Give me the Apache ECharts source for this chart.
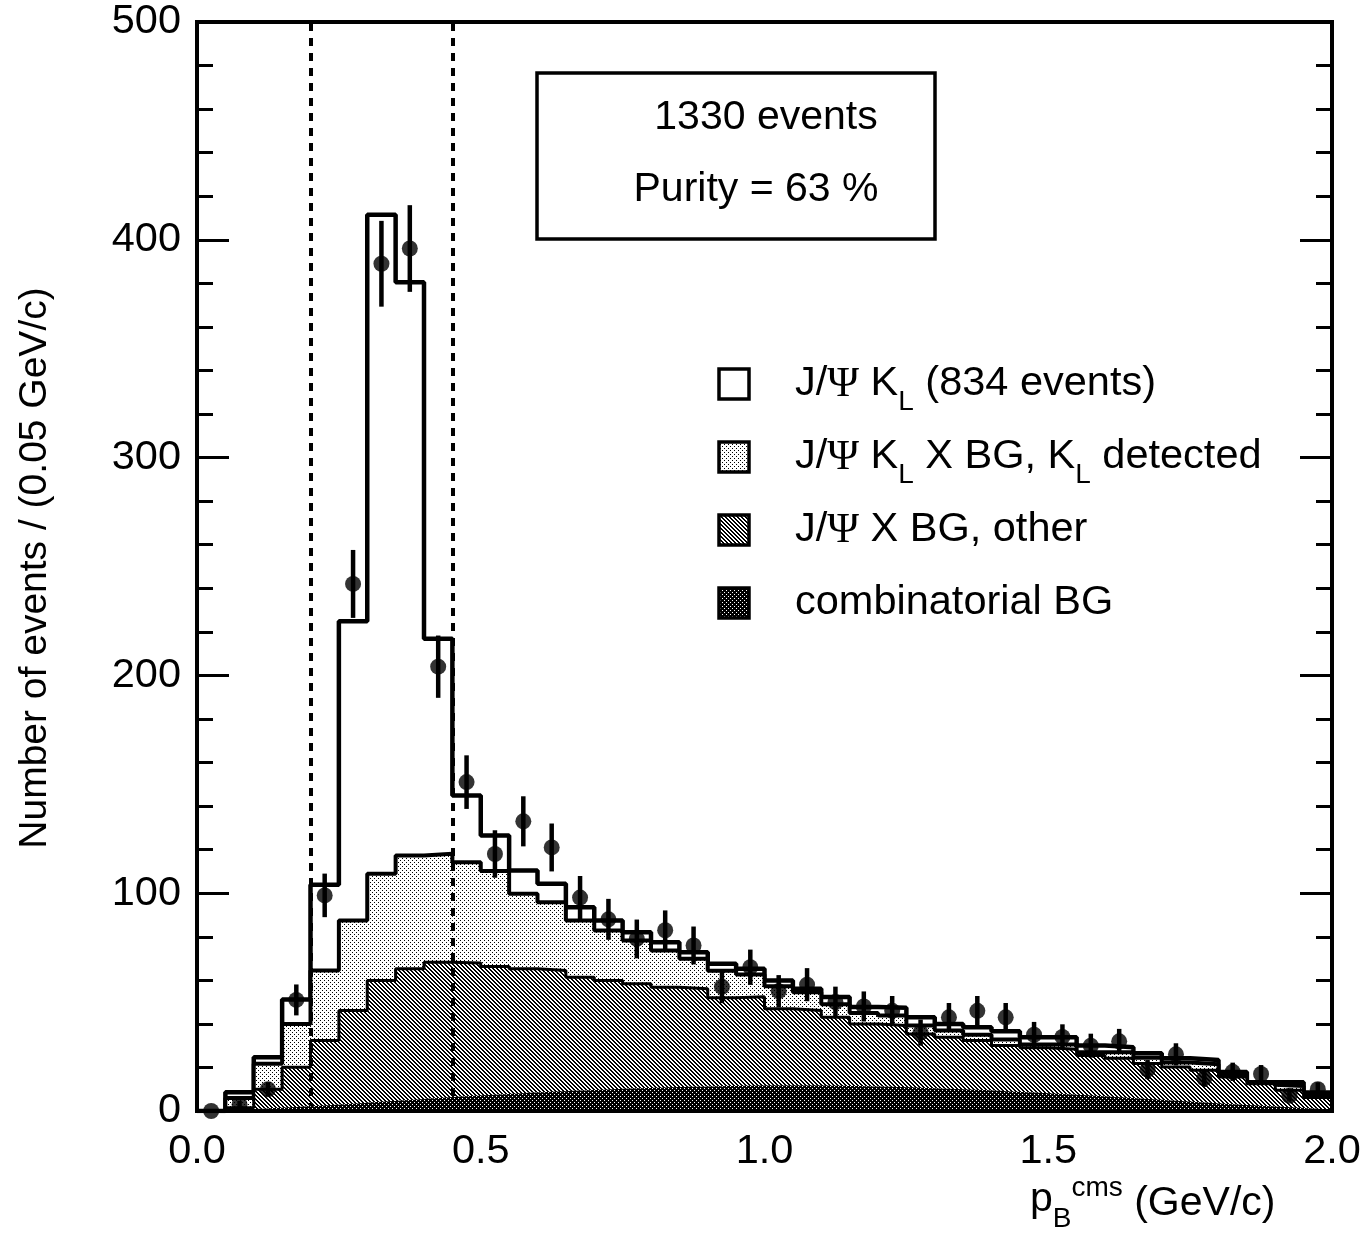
<!DOCTYPE html>
<html>
<head>
<meta charset="utf-8">
<script src="https://cdn.jsdelivr.net/npm/echarts@6/dist/echarts.min.js"></script>
<style>
html,body{margin:0;padding:0;background:#fff;}
#chart{width:1365px;height:1233px;}
</style>
</head>
<body>
<div id="chart"></div>
<script>
// ---- DATA ----
// 40 bins of 0.05 GeV/c from 0.0 to 2.0
const binWidth = 0.05;
const nBins = 40;
// cumulative top of the full MC stack (signal + all backgrounds)
const totalMC = [0, 8.6, 24.7, 51.2, 103.9, 224.9, 411.5, 380.5, 216.8, 144.9,
  126.5, 110.4, 104.3, 93.6, 87.5, 82.1, 77.5, 72.9, 67.6, 65.3,
  59.9, 56.1, 52.3, 47.7, 47.4, 43.1, 40.0, 38.5, 36.6, 33.9,
  33.9, 30.1, 29.3, 26.5, 24.2, 23.4, 17.9, 13.2, 13.2, 8.5];
// cumulative top of "J/Psi K_L X BG, K_L detected" (+ everything below)
const bgKLdetTop = [0, 6.0, 21.7, 40.0, 64.5, 87.5, 108.9, 117.3, 118.1, 114.2,
  110.2, 99.7, 95.9, 87.5, 82.9, 78.3, 73.7, 69.9, 64.4, 62.7,
  57.3, 54.5, 49.0, 45.0, 43.8, 39.3, 37.0, 35.0, 32.8, 30.5,
  30.5, 27.0, 27.0, 24.5, 22.3, 21.5, 16.3, 12.0, 11.5, 7.5];
// cumulative top of "J/Psi X BG, other" (+ combinatorial)
const bgOtherTop = [0, 1.5, 10.0, 20.1, 32.4, 46.1, 59.9, 65.3, 68.3, 67.9,
  66.4, 65.3, 64.5, 61.4, 59.9, 58.4, 56.8, 56.1, 52.0, 52.5,
  46.9, 46.1, 43.0, 40.0, 39.3, 35.4, 33.9, 32.4, 30.1, 29.0,
  28.3, 25.5, 24.2, 21.8, 20.2, 18.7, 15.6, 12.5, 9.5, 6.2];
// combinatorial background (smooth band at the bottom), at bin centres
const combBG = [0.3, 0.7, 1.2, 1.8, 2.5, 3.3, 4.2, 5.0, 6.0, 6.8,
  7.5, 8.2, 8.8, 9.4, 9.9, 10.4, 10.8, 11.1, 11.4, 11.6,
  11.7, 11.7, 11.6, 11.4, 11.1, 10.7, 10.2, 9.7, 9.1, 8.5,
  7.8, 7.1, 6.3, 5.5, 4.7, 3.9, 3.1, 2.4, 1.7, 1.0];
// observed data points and their error bars
const dataObs = [0, 3, 10, 51, 99, 242, 389, 396, 204, 151,
  118, 133, 121, 98, 88, 79, 83, 76, 57, 66,
  55, 58, 50, 48, 46, 36, 43, 46, 43, 35,
  34, 30, 32, 19, 26, 15, 18, 17, 7, 10];
const dataErr = [0, 1.7, 3.2, 7.1, 10, 15.6, 19.7, 19.9, 14.3, 12.3,
  10.9, 11.5, 11, 9.9, 9.4, 8.9, 9.1, 8.7, 7.5, 8.1,
  7.4, 7.6, 7.1, 6.9, 6.8, 6, 6.6, 6.8, 6.6, 5.9,
  5.8, 5.5, 5.7, 4.4, 5.1, 3.9, 4.2, 4.1, 2.6, 3.2];
const cutLines = [0.2, 0.45];
const xTicks = {min: 0, max: 2, interval: 0.5};
const yTicks = {min: 0, max: 500, interval: 100};
const legendLabels = ['J/\u03A8 K_L (834 events)', 'J/\u03A8 K_L X BG, K_L detected', 'J/\u03A8 X BG, other', 'combinatorial BG'];
const boxLines = ['1330 events', 'Purity = 63 %'];

// ---- helpers ----
const FONT = '"Liberation Sans", Arial, Helvetica, sans-serif';
const SERIF = '"Liberation Serif", "DejaVu Serif", serif';

function makePattern(bg, fg, size, pix) {
  const c = document.createElement('canvas');
  c.width = size; c.height = size;
  const ctx = c.getContext('2d');
  ctx.fillStyle = bg; ctx.fillRect(0, 0, size, size);
  ctx.fillStyle = fg;
  pix.forEach(p => ctx.fillRect(p[0], p[1], 1, 1));
  return c;
}
const stippleCanvas = makePattern('#fff', '#000', 4, [[0, 0], [2, 2]]);
const hatchCanvas = makePattern('#fff', '#000', 4, [[0,0],[1,0],[1,1],[2,1],[2,2],[3,2],[3,3],[0,3]]);
const darkCanvas = makePattern('#000', '#fff', 4, [[0, 0], [2, 2]]);
const stipplePat = {image: stippleCanvas, repeat: 'repeat'};
const hatchPat = {image: hatchCanvas, repeat: 'repeat'};
const darkPat = {image: darkCanvas, repeat: 'repeat'};

function stepData(vals) {
  const d = vals.map((v, i) => [i * binWidth, v]);
  d.push([nBins * binWidth, vals[vals.length - 1]]);
  return d;
}
const centers = Array.from({length: nBins}, (_, i) => (i + 0.5) * binWidth);

const mctx = document.createElement('canvas').getContext('2d');
function measure(t, font) { mctx.font = font; return mctx.measureText(t).width; }
function runs(x0, yc, parts, z) {
  let x = x0; const els = [];
  parts.forEach(p => {
    const font = p.size + 'px ' + (p.fam || FONT);
    els.push({type: 'text', x: x, y: yc + (p.dy || 0), z: z || 20,
      style: {text: p.t, font: font, fill: '#000', align: 'left', verticalAlign: 'middle',
              textAlign: 'left', textVerticalAlign: 'middle'}});
    x += measure(p.t, font);
  });
  return els;
}
function labelParts(label) {
  const parts = [];
  const tokens = label.split(/(_L|\u03A8)/);
  tokens.forEach(tk => {
    if (!tk) return;
    if (tk === '_L') parts.push({t: 'L', size: 28, dy: 18});
    else if (tk === '\u03A8') parts.push({t: '\u03A8', size: 43, fam: SERIF, dy: 1});
    else parts.push({t: tk, size: 41.5});
  });
  return parts;
}

// ---- graphics (legend, text box, axis titles) ----
const graphics = [];
graphics.push({type: 'rect', shape: {x: 537, y: 73, width: 398, height: 166}, z: 20,
  style: {fill: '#fff', stroke: '#000', lineWidth: 3.5}});
graphics.push({type: 'text', x: 766, y: 118, z: 21, style: {text: boxLines[0], font: '41px ' + FONT, fill: '#000',
  align: 'center', verticalAlign: 'middle', textAlign: 'center', textVerticalAlign: 'middle'}});
graphics.push({type: 'text', x: 756, y: 190, z: 21, style: {text: boxLines[1], font: '41px ' + FONT, fill: '#000',
  align: 'center', verticalAlign: 'middle', textAlign: 'center', textVerticalAlign: 'middle'}});
const legFills = ['#fff', stipplePat, hatchPat, darkPat];
const legY = [384, 457, 530, 603];
legendLabels.forEach((lab, i) => {
  graphics.push({type: 'rect', shape: {x: 719, y: legY[i] - 15, width: 30, height: 30}, z: 20,
    style: {fill: legFills[i], stroke: '#000', lineWidth: 3.5}});
  runs(795, legY[i], labelParts(lab)).forEach(e => graphics.push(e));
});
graphics.push({type: 'text', x: 35, y: 568, rotation: Math.PI / 2, z: 20,
  style: {text: 'Number of events / (0.05 GeV/c)', font: '39px ' + FONT, fill: '#000',
    align: 'center', verticalAlign: 'middle', textAlign: 'center', textVerticalAlign: 'middle'}});
runs(1030, 1204, [
  {t: 'p', size: 41, dy: -4},
  {t: 'B', size: 28, dy: 15},
  {t: 'cms', size: 28, dy: -16},
  {t: ' (GeV/c)', size: 41}
]).forEach(e => graphics.push(e));

// ---- chart ----
const chart = echarts.init(document.getElementById('chart'), null, {renderer: 'canvas'});
const tickStyle = {color: '#000', width: 3};
const yAxisBase = {
  type: 'value', min: yTicks.min, max: yTicks.max, interval: yTicks.interval, z: 10,
  axisLine: {show: true, onZero: false, lineStyle: {color: '#000', width: 4}},
  axisTick: {show: true, inside: true, length: 32, lineStyle: tickStyle},
  minorTick: {show: true, splitNumber: 5, length: 16, lineStyle: tickStyle},
  splitLine: {show: false}, minorSplitLine: {show: false}
};
const option = {
  animation: false,
  backgroundColor: '#fff',
  grid: {left: 197, right: 33, top: 22, bottom: 122, show: true, borderColor: '#000', borderWidth: 4,
    backgroundColor: 'transparent'},
  xAxis: [{
    type: 'value', min: xTicks.min, max: xTicks.max, interval: xTicks.interval, z: 10,
    axisLine: {show: true, onZero: false, lineStyle: {color: '#000', width: 4}},
    axisTick: {show: false}, splitLine: {show: false},
    axisLabel: {fontSize: 41.5, fontFamily: FONT, color: '#000', margin: 20,
      formatter: v => v.toFixed(1)}
  }, {
    type: 'value', position: 'top', min: xTicks.min, max: xTicks.max, interval: xTicks.interval, z: 10,
    axisLine: {show: true, onZero: false, lineStyle: {color: '#000', width: 4}},
    axisTick: {show: false}, splitLine: {show: false}, axisLabel: {show: false}
  }],
  yAxis: [
    Object.assign({}, yAxisBase, {position: 'left',
      axisLabel: {fontSize: 41.5, fontFamily: FONT, color: '#000', margin: 16}}),
    Object.assign({}, yAxisBase, {position: 'right', axisLabel: {show: false}})
  ],
  graphic: graphics,
  series: [
    {name: 'total', type: 'line', step: 'end', data: stepData(totalMC), symbol: 'none', z: 2,
      lineStyle: {color: '#000', width: 4.5}, areaStyle: {color: '#fff', opacity: 1}},
    {name: 'KLdet', type: 'line', step: 'end', data: stepData(bgKLdetTop), symbol: 'none', z: 3,
      lineStyle: {color: '#000', width: 4}, areaStyle: {color: stipplePat, opacity: 1}},
    {name: 'other', type: 'line', step: 'end', data: stepData(bgOtherTop), symbol: 'none', z: 4,
      lineStyle: {color: '#000', width: 3}, areaStyle: {color: hatchPat, opacity: 1}},
    {name: 'comb', type: 'line', smooth: true, symbol: 'none', z: 5,
      data: [[0, 0]].concat(centers.map((c, i) => [c, combBG[i]])).concat([[2, 0.6]]),
      lineStyle: {width: 0}, areaStyle: {color: darkPat, opacity: 1}},
    {name: 'errors', type: 'custom', z: 8, clip: false,
      data: centers.map((c, i) => [c, dataObs[i] - dataErr[i], dataObs[i] + dataErr[i]]),
      renderItem: function (params, api) {
        const p1 = api.coord([api.value(0), api.value(1)]);
        const p2 = api.coord([api.value(0), api.value(2)]);
        return {type: 'line', shape: {x1: p1[0], y1: p1[1], x2: p2[0], y2: p2[1]},
          style: {stroke: '#000', lineWidth: 4.5}};
      }},
    {name: 'data', type: 'scatter', z: 9, clip: false, symbol: 'circle', symbolSize: 16,
      data: centers.map((c, i) => [c, dataObs[i]]),
      itemStyle: {color: '#000'},
      markLine: {silent: true, symbol: ['none', 'none'], label: {show: false},
        lineStyle: {type: [8, 7], width: 4, color: '#000'},
        data: cutLines.map(v => ({xAxis: v}))}}
  ]
};
chart.setOption(option);
</script>
</body>
</html>
